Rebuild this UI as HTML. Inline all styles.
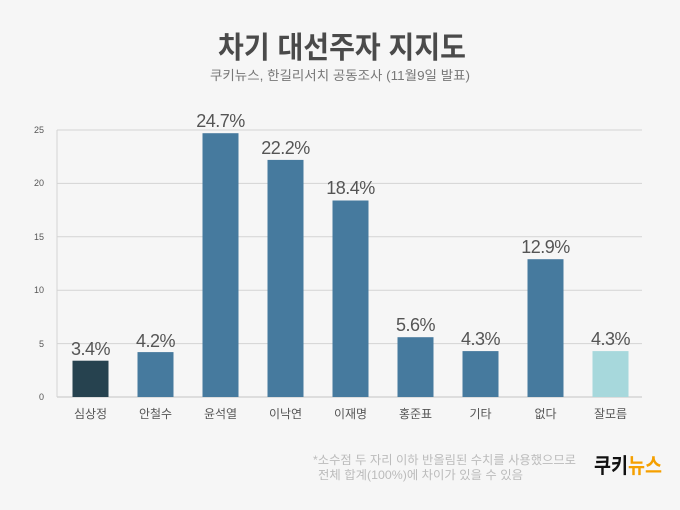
<!DOCTYPE html>
<html><head><meta charset="utf-8"><style>
body{margin:0;width:680px;height:505px;background:#f6f6f6;overflow:hidden;font-family:"Liberation Sans","Noto Sans CJK KR",sans-serif}
</style></head><body>
<svg width="680" height="505" xmlns="http://www.w3.org/2000/svg" font-family="Liberation Sans, Noto Sans CJK KR, sans-serif">
<text x="218" y="58" font-size="30" font-weight="bold" fill="#4a4a4a" textLength="248" lengthAdjust="spacingAndGlyphs">차기 대선주자 지지도</text>
<text x="210" y="80" font-size="13" fill="#777" textLength="260" lengthAdjust="spacingAndGlyphs">쿠키뉴스, 한길리서치 공동조사 (11월9일 발표)</text>
<g stroke="#d4d4d4" stroke-width="1">
<line x1="57" y1="130" x2="642" y2="130"/><line x1="57" y1="183.4" x2="642" y2="183.4"/>
<line x1="57" y1="236.8" x2="642" y2="236.8"/><line x1="57" y1="290.2" x2="642" y2="290.2"/>
<line x1="57" y1="343.6" x2="642" y2="343.6"/><line x1="57" y1="397" x2="642" y2="397" stroke="#c4c4c4"/>
<line x1="57" y1="130" x2="57" y2="397"/>
</g>
<g font-size="9" fill="#555" text-anchor="end">
<text x="44" y="133">25</text><text x="44" y="186">20</text><text x="44" y="240">15</text>
<text x="44" y="293">10</text><text x="44" y="347">5</text><text x="44" y="400">0</text>
</g>
<g>
<rect x="72.5" y="360.7" width="36" height="36.3" fill="#26424f"/>
<rect x="137.5" y="352.1" width="36" height="44.9" fill="#467a9e"/>
<rect x="202.5" y="133.2" width="36" height="263.8" fill="#467a9e"/>
<rect x="267.5" y="159.9" width="36" height="237.1" fill="#467a9e"/>
<rect x="332.5" y="200.5" width="36" height="196.5" fill="#467a9e"/>
<rect x="397.5" y="337.2" width="36" height="59.8" fill="#467a9e"/>
<rect x="462.5" y="351.1" width="36" height="45.9" fill="#467a9e"/>
<rect x="527.5" y="259.2" width="36" height="137.8" fill="#467a9e"/>
<rect x="592.5" y="351.1" width="36" height="45.9" fill="#a7d8dc"/>
</g>
<g font-size="18" fill="#555" text-anchor="middle" letter-spacing="-0.5">
<text x="90.5" y="355">3.4%</text><text x="155.5" y="347">4.2%</text>
<text x="220.5" y="127">24.7%</text><text x="285.5" y="154">22.2%</text>
<text x="350.5" y="194">18.4%</text><text x="415.5" y="331">5.6%</text>
<text x="480.5" y="345">4.3%</text><text x="545.5" y="253">12.9%</text>
<text x="610.5" y="345">4.3%</text>
</g>
<g font-size="12" fill="#555" text-anchor="middle">
<text x="90.5" y="418">심상정</text><text x="155.5" y="418">안철수</text><text x="220.5" y="418">윤석열</text>
<text x="285.5" y="418">이낙연</text><text x="350.5" y="418">이재명</text><text x="415.5" y="418">홍준표</text>
<text x="480.5" y="418">기타</text><text x="545.5" y="418">없다</text><text x="610.5" y="418">잘모름</text>
</g>
<g font-size="12" fill="#bbb">
<text x="313" y="464" textLength="263" lengthAdjust="spacingAndGlyphs">*소수점 두 자리 이하 반올림된 수치를 사용했으므로</text>
<text x="318" y="479" textLength="205" lengthAdjust="spacingAndGlyphs">전체 합계(100%)에 차이가 있을 수 있음</text>
</g>
<text x="594" y="473" font-size="21" font-weight="bold" fill="#111" textLength="68" lengthAdjust="spacingAndGlyphs">쿠키<tspan fill="#f5a000">뉴스</tspan></text>
</svg>
</body></html>
